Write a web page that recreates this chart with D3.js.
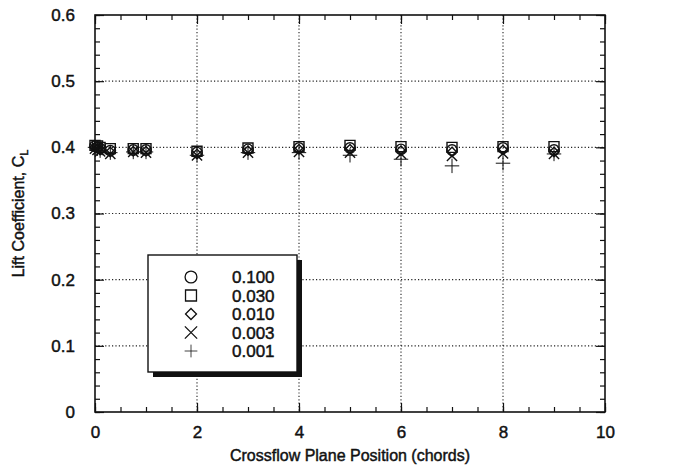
<!DOCTYPE html>
<html>
<head>
<meta charset="utf-8">
<script src="https://cdn.jsdelivr.net/npm/d3@7"></script>
<style>
  body { margin: 0; background: #fff; }
  svg text { font-family: "Liberation Sans", Arial, sans-serif; fill: #111; stroke: #111; stroke-width: 0.45px; }
</style>
</head>
<body>
<div id="container"></div>
<script>
// crossflow plane positions (chords)
var positions = [0, 0.05, 0.1, 0.3, 0.75, 1, 2, 3, 4, 5, 6, 7, 8, 9]

// lift coefficient per convergence level
var cl100 = [0.402, 0.400, 0.398, 0.395, 0.396, 0.396, 0.392, 0.397, 0.399, 0.399, 0.397, 0.396, 0.399, 0.396]
var cl030 = [0.403, 0.402, 0.400, 0.398, 0.398, 0.398, 0.394, 0.399, 0.401, 0.403, 0.401, 0.400, 0.401, 0.401]
var cl010 = [0.400, 0.398, 0.396, 0.393, 0.394, 0.394, 0.390, 0.395, 0.397, 0.397, 0.395, 0.393, 0.396, 0.393]
var cl003 = [0.398, 0.396, 0.394, 0.390, 0.393, 0.392, 0.388, 0.392, 0.393, 0.392, 0.390, 0.387, 0.391, 0.390]
var cl001 = [0.400, 0.398, 0.395, 0.392, 0.393, 0.393, 0.388, 0.392, 0.392, 0.388, 0.382, 0.372, 0.376, 0.390]

var legendLabels = ['0.100', '0.030', '0.010', '0.003', '0.001']
var xTicks = [0, 2, 4, 6, 8, 10]
var yTicks = [0, 0.1, 0.2, 0.3, 0.4, 0.5, 0.6]

var WIDTH = 682
var HEIGHT = 476
var pLeft = 95, pRight = 605, pTop = 15, pBottom = 412

var svg = d3.select('div#container').append('svg')
  .attr('width', WIDTH)
  .attr('height', HEIGHT)

var x = d3.scaleLinear().domain([0, 10]).range([pLeft, pRight])
var y = d3.scaleLinear().domain([0, 0.6]).range([pBottom, pTop])

// dotted grid
var grid = svg.append('g')
grid.selectAll('line.gx').data([2, 4, 6, 8]).enter().append('line')
  .attr('x1', function (d) { return x(d) }).attr('x2', function (d) { return x(d) })
  .attr('y1', pTop).attr('y2', pBottom)
grid.selectAll('line.gy').data([0.1, 0.2, 0.3, 0.4, 0.5]).enter().append('line')
  .attr('y1', function (d) { return y(d) }).attr('y2', function (d) { return y(d) })
  .attr('x1', pLeft).attr('x2', pRight)
grid.selectAll('line')
  .attr('stroke', '#222')
  .attr('stroke-width', 1.1)
  .attr('stroke-dasharray', '1.2,2.2')

function styleAxis(g) {
  g.select('.domain').remove()
  g.selectAll('line').attr('stroke', '#111').attr('stroke-width', 1.2)
  g.selectAll('text').attr('font-size', 17)
    .attr('font-family', '"Liberation Sans", Arial, sans-serif').attr('fill', '#111')
}

// minor ticks, all four sides
var xMinor = d3.range(0, 10.01, 0.5)
var yMinor = d3.range(0, 0.601, 0.02)
svg.append('g').attr('transform', 'translate(0,' + pBottom + ')')
  .call(d3.axisBottom(x).tickValues(xMinor).tickSize(-5).tickFormat('')).call(styleAxis)
svg.append('g').attr('transform', 'translate(0,' + pTop + ')')
  .call(d3.axisTop(x).tickValues(xMinor).tickSize(-5).tickFormat('')).call(styleAxis)
svg.append('g').attr('transform', 'translate(' + pLeft + ',0)')
  .call(d3.axisLeft(y).tickValues(yMinor).tickSize(-5).tickFormat('')).call(styleAxis)
svg.append('g').attr('transform', 'translate(' + pRight + ',0)')
  .call(d3.axisRight(y).tickValues(yMinor).tickSize(-5).tickFormat('')).call(styleAxis)

// major ticks + labels
svg.append('g').attr('transform', 'translate(0,' + pBottom + ')')
  .call(d3.axisBottom(x).tickValues(xTicks).tickSize(-9).tickPadding(14).tickFormat(d3.format('d'))).call(styleAxis)
svg.append('g').attr('transform', 'translate(0,' + pTop + ')')
  .call(d3.axisTop(x).tickValues(xTicks).tickSize(-9).tickFormat('')).call(styleAxis)
svg.append('g').attr('transform', 'translate(' + pLeft + ',0)')
  .call(d3.axisLeft(y).tickValues(yTicks).tickSize(-9).tickPadding(20)
    .tickFormat(function (d) { return d === 0 ? '0' : d3.format('.1f')(d) })).call(styleAxis)
svg.append('g').attr('transform', 'translate(' + pRight + ',0)')
  .call(d3.axisRight(y).tickValues(yTicks).tickSize(-9).tickFormat('')).call(styleAxis)

// frame
svg.append('rect')
  .attr('x', pLeft).attr('y', pTop)
  .attr('width', pRight - pLeft).attr('height', pBottom - pTop)
  .attr('fill', 'none').attr('stroke', '#111').attr('stroke-width', 1.6)

// symbols
var series = [
  { values: cl100, sym: d3.symbolCircle, size: 85, rot: 0, sw: 1.4 },
  { values: cl030, sym: d3.symbolSquare, size: 100, rot: 0, sw: 1.4 },
  { values: cl010, sym: d3.symbolSquare, size: 45, rot: 45, sw: 1.4 },
  { values: cl003, sym: d3.symbolTimes, size: 70, rot: 0, sw: 1.4 },
  { values: cl001, sym: d3.symbolPlus, size: 70, rot: 0, sw: 1.0 }
]

var marks = svg.append('g')
series.forEach(function (s) {
  marks.append('g').selectAll('path').data(s.values).enter().append('path')
    .attr('d', d3.symbol().type(s.sym).size(s.size))
    .attr('transform', function (d, i) {
      return 'translate(' + x(positions[i]) + ',' + y(d) + ') rotate(' + s.rot + ')'
    })
    .attr('fill', 'none')
    .attr('stroke', '#111')
    .attr('stroke-width', s.sw)
})

// legend box with drop shadow
var lg = svg.append('g')
var lx = 148, ly = 255, lw = 149, lh = 117
lg.append('rect').attr('x', lx + 5).attr('y', ly + 5).attr('width', lw).attr('height', lh).attr('fill', '#111')
lg.append('rect').attr('x', lx).attr('y', ly).attr('width', lw).attr('height', lh)
  .attr('fill', '#fff').attr('stroke', '#111').attr('stroke-width', 1.4)

var legendSize = [110, 120, 60, 100, 55]
series.forEach(function (s, i) {
  var cy = ly + 22 + i * 18.5
  lg.append('path')
    .attr('d', d3.symbol().type(s.sym).size(legendSize[i]))
    .attr('transform', 'translate(' + (lx + 43) + ',' + cy + ') rotate(' + s.rot + ')')
    .attr('fill', 'none').attr('stroke', '#111').attr('stroke-width', i === 4 ? 0.8 : 1.3)
  lg.append('text')
    .attr('x', lx + 84).attr('y', cy + 6)
    .attr('font-size', 17)
    .text(legendLabels[i])
})

// axis titles
svg.append('text')
  .attr('x', (pLeft + pRight) / 2).attr('y', 461)
  .attr('text-anchor', 'middle').attr('font-size', 16)
  .text('Crossflow Plane Position (chords)')

var yt = svg.append('text')
  .attr('transform', 'translate(24,' + ((pTop + pBottom) / 2) + ') rotate(-90)')
  .attr('text-anchor', 'middle').attr('font-size', 16)
yt.append('tspan').text('Lift Coefficient, C')
yt.append('tspan').attr('font-size', 11).attr('dy', 4).text('L')
</script>
</body>
</html>
